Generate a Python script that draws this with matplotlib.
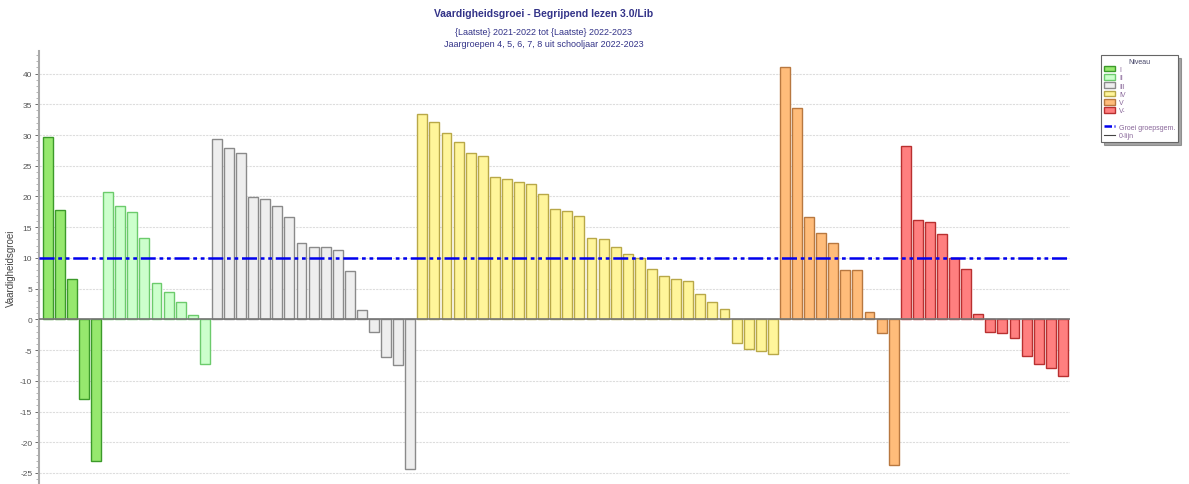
import numpy as np
import matplotlib

matplotlib.use("Agg")
import matplotlib.pyplot as plt
from matplotlib.patches import Patch
from matplotlib.lines import Line2D

plt.rcParams["font.family"] = ["Liberation Sans", "DejaVu Sans"]
plt.rcParams["axes.unicode_minus"] = False

# groei per leerling, per niveau (gesorteerd zoals in de bron)
groei_I = [29.7, 17.8, 6.5, -13.0, -23.0]
groei_II = [20.8, 18.4, 17.5, 13.2, 5.9, 4.4, 2.9, 0.7, -7.3]
groei_III = [29.4, 27.9, 27.0, 19.9, 19.6, 18.5, 16.7, 12.4, 11.8, 11.7, 11.3,
             7.9, 1.5, -2.0, -6.2, -7.4, -24.4]
groei_IV = [33.5, 32.1, 30.4, 28.9, 27.0, 26.6, 23.1, 22.9, 22.3, 22.1, 20.4,
            18.0, 17.7, 16.8, 13.3, 13.0, 11.7, 10.7, 10.0, 8.2, 7.1, 6.6, 6.3,
            4.1, 2.9, 1.7, -3.8, -4.8, -5.1, -5.6]
groei_V = [41.0, 34.4, 16.7, 14.1, 12.5, 8.1, 8.0, 1.25, -2.2, -23.7]
groei_Vmin = [28.2, 16.2, 15.8, 13.9, 10.0, 8.2, 0.8, -2.1, -2.3, -3.0, -5.9,
              -7.2, -7.9, -9.2]

niveaus = ["I", "II", "III", "IV", "V", "V-"]
groepen = [groei_I, groei_II, groei_III, groei_IV, groei_V, groei_Vmin]
groei_gem = 10.0

face = ["#96E86E", "#CCFFCC", "#EEEEEE", "#FFF59A", "#FFBC7A", "#FF7F7F"]
edge = ["#3C9A2A", "#6CCB6C", "#8A8A8A", "#B8A848", "#B87840", "#B83030"]

fig = plt.figure(figsize=(11.89, 4.85), dpi=100)
ax = fig.add_axes([0.033, 0.0, 0.867, 0.893])

pos = 0
for name, vals, fc, ec in zip(niveaus, groepen, face, edge):
    x = np.arange(pos, pos + len(vals))
    ax.bar(x, vals, width=0.82, color=fc, edgecolor=ec, linewidth=1.0, zorder=3)
    pos += len(vals)

ax.axhline(groei_gem, color="#0000EE", linewidth=1.8, dashes=(6, 1.5, 1.5, 1.5, 1.5, 1.5), zorder=4)
ax.axhline(0, color="#777777", linewidth=1.2, zorder=4)

ax.set_xlim(-0.7, pos - 0.4)
ax.set_ylim(-26.8, 43.7)
ax.set_yticks(np.arange(-25, 41, 5))
ax.set_yticks(np.arange(-26, 44, 1), minor=True)
ax.tick_params(axis="y", labelsize=6, colors="#555555", length=3, width=0.6, pad=2)
ax.tick_params(axis="y", which="minor", length=2, width=0.5, color="#999999")
ax.set_xticks([])
ax.grid(axis="y", color="#DDDDDD", linestyle=(0, (2, 1)), linewidth=0.8, zorder=0)
for s in ["top", "right", "bottom"]:
    ax.spines[s].set_visible(False)
ax.spines["left"].set_color("#AAAAAA")
ax.spines["left"].set_linewidth(1.5)
ax.set_ylabel("Vaardigheidsgroei", fontsize=7, color="#444444", labelpad=3)

fig.text(0.457, 0.965, "Vaardigheidsgroei - Begrijpend lezen 3.0/Lib", ha="center",
         fontsize=7.5, fontweight="bold", color="#333388")
fig.text(0.457, 0.928, "{Laatste} 2021-2022 tot {Laatste} 2022-2023", ha="center",
         fontsize=6.5, color="#333388")
fig.text(0.457, 0.903, "Jaargroepen 4, 5, 6, 7, 8 uit schooljaar 2022-2023", ha="center",
         fontsize=6.5, color="#333388")

handles = [Patch(facecolor=fc, edgecolor=ec, label=n) for n, fc, ec in zip(niveaus, face, edge)]
handles.append(Line2D([], [], color="none", label=" "))
handles.append(Line2D([], [], color="#0000EE", linewidth=1.8,
                      dashes=(3, 1, 1, 1, 1, 1), label="Groei groepsgem."))
handles.append(Line2D([], [], color="#444444", linewidth=0.8, label="0-lijn"))
leg = fig.legend(handles=handles, title="Niveau", loc="upper left",
                 bbox_to_anchor=(0.926, 0.885), fontsize=5, title_fontsize=5,
                 frameon=True, fancybox=False, shadow=True, handlelength=1.6,
                 handleheight=0.9, handletextpad=0.6, labelspacing=0.15,
                 borderpad=0.4, borderaxespad=0.0, labelcolor="#886699")
leg.get_title().set_color("#444466")
leg.get_frame().set_edgecolor("#666666")
leg.get_frame().set_linewidth(0.8)

fig.savefig("out.png", dpi=100)
plt.close()
